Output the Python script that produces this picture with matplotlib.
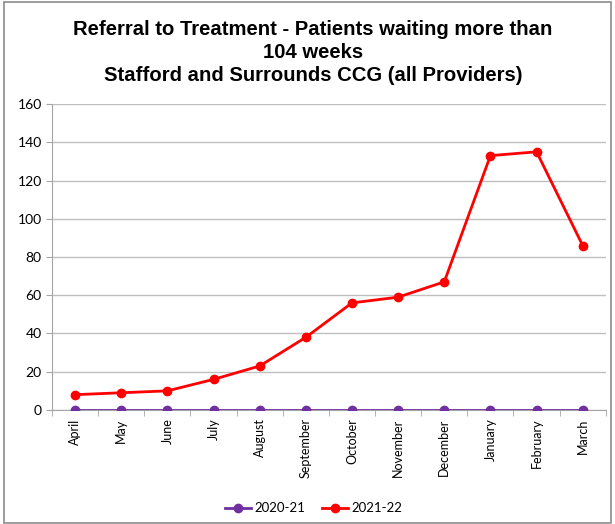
import matplotlib.pyplot as plt
from matplotlib.patches import Rectangle
import numpy as np

months = ['April', 'May', 'June', 'July', 'August', 'September', 'October',
          'November', 'December', 'January', 'February', 'March']
series_2020 = [0, 0, 0, 0, 0, 0, 0, 0, 0, 0, 0, 0]
series_2021 = [8, 9, 10, 16, 23, 38, 56, 59, 67, 133, 135, 86]

plt.rcParams['font.family'] = ['Liberation Sans', 'DejaVu Sans']

fig = plt.figure(figsize=(6.15, 5.24), dpi=100)
ax = fig.add_axes([0.0846, 0.2176, 0.9004, 0.5839])

x = np.arange(len(months))
ax.plot(x, series_2020, color='#7030A0', marker='o', markersize=6, linewidth=2,
        label='2020-21', zorder=3)
ax.plot(x, series_2021, color='#FF0000', marker='o', markersize=6, linewidth=2,
        label='2021-22', zorder=3)

ax.set_xlim(-0.5, len(months) - 0.5)
ax.set_ylim(0, 160)
ax.set_yticks(range(0, 161, 20))
ax.set_xticks(x)
ax.set_xticklabels(months, rotation=90, fontsize=9, family=['Lato', 'DejaVu Sans'])
ax.set_xticks(np.arange(-0.5, len(months), 1), minor=True)
ax.tick_params(axis='x', which='major', length=0, pad=6)
ax.tick_params(axis='x', which='minor', length=4, color='#A6A6A6')
ax.tick_params(axis='y', length=4, color='#A6A6A6', labelsize=10)
for lbl in ax.get_yticklabels():
    lbl.set_family(['Lato', 'DejaVu Sans'])

ax.grid(axis='y', color='#BFBFBF', linewidth=1)
ax.set_axisbelow(True)
for side in ['top', 'right']:
    ax.spines[side].set_visible(False)
ax.spines['left'].set_color('#A6A6A6')
ax.spines['bottom'].set_color('#A6A6A6')

fig.text(0.509, 0.962, 'Referral to Treatment - Patients waiting more than\n104 weeks\n'
         'Stafford and Surrounds CCG (all Providers)',
         ha='center', va='top', fontsize=14.6, fontweight='bold', linespacing=1.26)

leg = fig.legend(loc='center', bbox_to_anchor=(0.51, 0.03), ncol=2, frameon=False,
                 handlelength=2.0, handletextpad=0.3, columnspacing=1.2,
                 prop={'family': ['Lato', 'DejaVu Sans'], 'size': 9.5})

fig.patches.append(Rectangle((0.006, 0.002), 0.988, 0.994, transform=fig.transFigure,
                             fill=False, edgecolor='#8C8C8C', linewidth=1.2))

fig.savefig('out.png', dpi=100)
